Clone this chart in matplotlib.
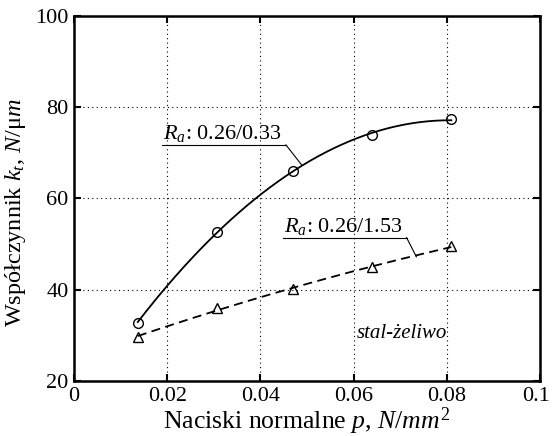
import numpy as np
import matplotlib
matplotlib.use("Agg")
import matplotlib.pyplot as plt
import matplotlib.transforms as mtransforms

plt.rcParams['font.family'] = ['Liberation Serif', 'DejaVu Serif']
plt.rcParams['mathtext.fontset'] = 'custom'
plt.rcParams['mathtext.rm'] = 'Liberation Serif'
plt.rcParams['mathtext.it'] = 'Liberation Serif:italic'

# data
p = [0.0137, 0.0307, 0.047, 0.064, 0.081]
k_033 = [32.8, 52.7, 66.1, 73.9, 77.3]
k_153 = [29.6, 36.1, 40.1, 44.9, 49.5]
xticks = [0, 0.02, 0.04, 0.06, 0.08, 0.1]
xticklabels = ['0', '0.02', '0.04', '0.06', '0.08', '0.1']
yticks = [20, 40, 60, 80, 100]

fig = plt.figure(figsize=(5.52, 4.36), dpi=100)
ax = fig.add_axes([0.134, 0.126, 0.844, 0.838])

xs = np.linspace(p[0], p[-1], 200)
c1 = np.polyfit(p, k_033, 2)
c2 = np.polyfit(p, k_153, 2)
ax.plot(xs, np.polyval(c1, xs), '-', color='black', lw=1.3)
ax.plot(xs, np.polyval(c2, xs), '--', color='black', lw=1.3, dashes=(5, 3))
ax.plot(p, k_033, 'o', mfc='none', mec='black', ms=7, mew=1.0)
ax.plot(p, k_153, '^', mfc='none', mec='black', ms=7, mew=1.0)

ax.set_xlim(0, 0.1)
ax.set_ylim(20, 100)
ax.set_xticks(xticks)
ax.set_xticklabels(xticklabels)
ax.set_yticks(yticks)
ax.grid(True, linestyle=(0, (1, 3)), color='black', lw=0.8)
ax.tick_params(direction='in', top=True, right=True, length=5, width=1.5,
               labelsize=16, pad=4)
for s in ax.spines.values():
    s.set_linewidth(1.8)
# keep last x tick label inside the canvas
lab = ax.get_xticklabels()[-1]
lab.set_transform(lab.get_transform() + mtransforms.ScaledTranslation(-4 / 100, 0, fig.dpi_scale_trans))

ax.set_xlabel('Naciski normalne $\\mathit{p}$, $\\mathit{N/mm^2}$', fontsize=18.5, labelpad=0)
ax.set_ylabel('Współczynnik $\\mathit{k_t}$, $\\mathit{N/}$μ$\\mathit{m}$', fontsize=17.5)
ax.yaxis.set_label_coords(-0.098, 0.46)

# annotations
ax.text(0.0192, 73.0, '$\\mathit{R_a}$: 0.26/0.33', fontsize=16, ha='left', va='baseline')
ax.plot([0.0190, 0.0455], [71.7, 71.7], color='black', lw=0.8)
ax.plot([0.0455, 0.0489], [71.7, 67.3], color='black', lw=0.8)

ax.text(0.0450, 52.7, '$\\mathit{R_a}$: 0.26/1.53', fontsize=16, ha='left', va='baseline')
ax.plot([0.0449, 0.0714], [51.4, 51.4], color='black', lw=0.8)
ax.plot([0.0714, 0.0735], [51.4, 47.2], color='black', lw=0.8)

ax.text(0.0703, 30.4, 'stal-żeliwo', fontsize=15, style='italic', ha='center', va='center')

fig.savefig('out.png', dpi=100)
